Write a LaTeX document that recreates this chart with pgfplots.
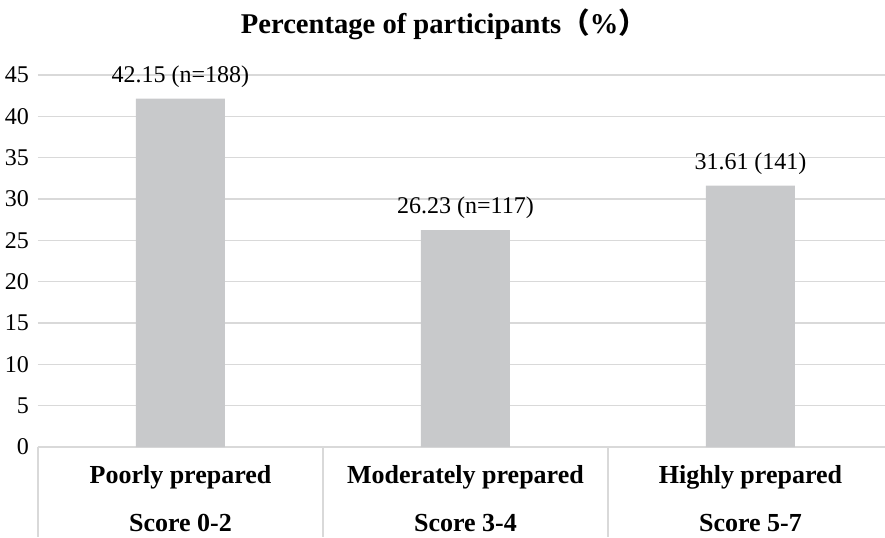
\documentclass[border=0pt]{standalone}
\usepackage{fontspec}
\setmainfont{Liberation Serif}
\newfontfamily\cjk{Noto Sans CJK SC}
\usepackage{pgfplots}
\pgfplotsset{compat=1.18}
\definecolor{bargray}{HTML}{C8C9CB}
\definecolor{gridgray}{HTML}{D9D9D9}
\begin{document}
\begin{tikzpicture}
\useasboundingbox (-19pt,-45pt) rectangle (423.5pt,223.5pt);
\begin{axis}[
  at={(0,0)}, anchor=south west,
  scale only axis, width=427.5pt, height=186pt,
  xmin=-0.5, xmax=2.5, ymin=0, ymax=45,
  ytick={0,5,...,45},
  xtick={0,1,2},
  xticklabels={},
  axis x line*=bottom, axis y line*=left,
  x axis line style={draw=gridgray, line width=0.8pt, -},
  y axis line style={draw=none},
  major tick length=0pt,
  ymajorgrids, grid style={gridgray, line width=0.8pt},
  tick label style={font=\fontsize{12}{14}\selectfont},
  /pgf/number format/assume math mode=true,
  yticklabel style={xshift=-1pt},
  clip=false,
  ybar, bar width=44.5pt, bar shift=0pt,
  nodes near coords,
  point meta=explicit symbolic,
  nodes near coords style={font=\fontsize{12}{14}\selectfont, anchor=center, yshift=11pt},
]
\addplot[fill=bargray, draw=none] coordinates {
  (0,42.15) [42.15 (n=188)]
  (1,26.23) [26.23 (n=117)]
  (2,31.61) [31.61 (141)]
};
\draw[gridgray, line width=0.8pt] (axis cs:-0.5,0) -- ++(0pt,-45pt);
\draw[gridgray, line width=0.8pt] (axis cs:0.5,0) -- ++(0pt,-45pt);
\draw[gridgray, line width=0.8pt] (axis cs:1.5,0) -- ++(0pt,-45pt);
\path (axis cs:0,0) node[yshift=-15pt, font=\fontsize{13}{15}\selectfont\bfseries] {Poorly prepared}
      (axis cs:0,0) node[yshift=-38pt, font=\fontsize{13}{15}\selectfont\bfseries] {Score 0-2}
      (axis cs:1,0) node[yshift=-15pt, font=\fontsize{13}{15}\selectfont\bfseries] {Moderately prepared}
      (axis cs:1,0) node[yshift=-38pt, font=\fontsize{13}{15}\selectfont\bfseries] {Score 3-4}
      (axis cs:2,0) node[yshift=-15pt, font=\fontsize{13}{15}\selectfont\bfseries] {Highly prepared}
      (axis cs:2,0) node[yshift=-38pt, font=\fontsize{13}{15}\selectfont\bfseries] {Score 5-7};
\end{axis}
\node[font=\fontsize{14.3}{16}\selectfont\bfseries] at (203pt,211.5pt) {Percentage of participants{\cjk （}\%{\cjk ）}};
\end{tikzpicture}
\end{document}
